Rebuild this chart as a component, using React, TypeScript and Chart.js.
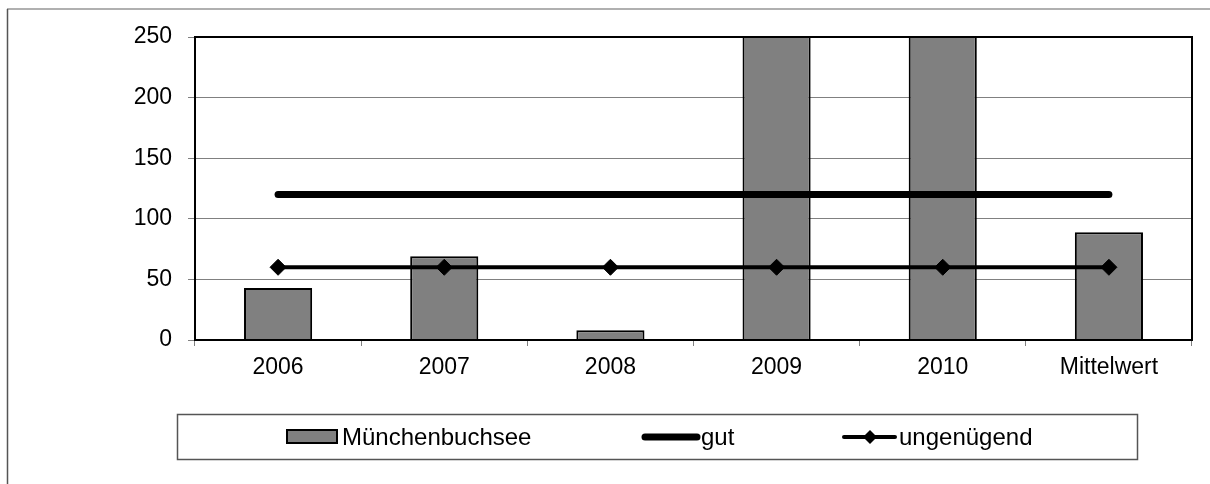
import React, { useEffect, useRef } from "react";
import { Chart, registerables } from "chart.js";

Chart.register(...registerables);

const categories = ["2006", "2007", "2008", "2009", "2010", "Mittelwert"];
const barValues = [43, 69, 8, 300, 300, 89];
const gutValues = [120, 120, 120, 120, 120, 120];
const ungenuegendValues = [60, 60, 60, 60, 60, 60];
const yTicks = [0, 50, 100, 150, 200, 250];

const FONT = "'Liberation Sans', Arial, sans-serif";

const framePlugin = {
  id: "framePlugin",
  beforeDraw(chart: any) {
    const ctx = chart.ctx;
    ctx.save();
    ctx.fillStyle = "#ffffff";
    ctx.fillRect(0, 0, chart.width, chart.height);
    ctx.restore();
  },
  afterDraw(chart: any) {
    const ctx = chart.ctx;
    const a = chart.chartArea;
    ctx.save();
    // outer frame
    ctx.strokeStyle = "#b0b0b0";
    ctx.lineWidth = 2;
    ctx.beginPath();
    ctx.moveTo(7, 9);
    ctx.lineTo(1210, 9);
    ctx.stroke();
    ctx.strokeStyle = "#555555";
    ctx.lineWidth = 1.5;
    ctx.beginPath();
    ctx.moveTo(7.5, 9);
    ctx.lineTo(7.5, 484);
    ctx.stroke();
    // plot frame
    ctx.strokeStyle = "#000000";
    ctx.lineWidth = 2;
    ctx.strokeRect(a.left, a.top, a.right - a.left, a.bottom - a.top);

    // legend box
    ctx.strokeStyle = "#555555";
    ctx.lineWidth = 1.5;
    ctx.strokeRect(177.5, 414.5, 960, 45);
    const cy = 437;
    ctx.font = `24px ${FONT}`;
    ctx.fillStyle = "#000000";
    ctx.textBaseline = "middle";
    ctx.textAlign = "left";
    // bar swatch
    ctx.fillStyle = "#808080";
    ctx.fillRect(287, 430, 50, 13);
    ctx.strokeStyle = "#000000";
    ctx.lineWidth = 2;
    ctx.strokeRect(287, 430, 50, 13);
    ctx.fillStyle = "#000000";
    ctx.fillText("Münchenbuchsee", 342, cy + 1);
    // gut swatch
    ctx.lineCap = "round";
    ctx.lineWidth = 7;
    ctx.beginPath();
    ctx.moveTo(645, cy);
    ctx.lineTo(697, cy);
    ctx.stroke();
    ctx.fillText("gut", 701, cy + 1);
    // ungenügend swatch
    ctx.lineWidth = 4;
    ctx.beginPath();
    ctx.moveTo(844, cy);
    ctx.lineTo(895, cy);
    ctx.stroke();
    ctx.beginPath();
    ctx.moveTo(870 - 7, cy);
    ctx.lineTo(870, cy - 7);
    ctx.lineTo(870 + 7, cy);
    ctx.lineTo(870, cy + 7);
    ctx.closePath();
    ctx.fill();
    ctx.fillText("ungenügend", 899, cy + 1);
    ctx.restore();
  },
};

export default function App() {
  const ref = useRef<HTMLCanvasElement>(null);
  useEffect(() => {
    if (!ref.current) return;
    const chart = new Chart(ref.current, {
      type: "bar",
      data: {
        labels: categories,
        datasets: [
          {
            type: "bar",
            label: "Münchenbuchsee",
            data: barValues,
            backgroundColor: "#808080",
            borderColor: "#000000",
            borderWidth: 2,
            categoryPercentage: 1,
            barPercentage: 0.41,
            order: 3,
          } as any,
          {
            type: "line",
            label: "gut",
            data: gutValues,
            borderColor: "#000000",
            borderWidth: 7,
            borderCapStyle: "round",
            pointRadius: 0,
            fill: false,
            order: 2,
          } as any,
          {
            type: "line",
            label: "ungenügend",
            data: ungenuegendValues,
            borderColor: "#000000",
            backgroundColor: "#000000",
            borderWidth: 4,
            pointStyle: "rectRot",
            pointRadius: 8,
            pointBorderWidth: 1,
            pointBackgroundColor: "#000000",
            pointBorderColor: "#000000",
            fill: false,
            order: 1,
          } as any,
        ],
      },
      options: {
        responsive: false,
        animation: false,
        layout: { padding: { left: 0, top: 37, right: 18, bottom: 0 } },
        plugins: {
          legend: { display: false },
          tooltip: { enabled: false },
        },
        scales: {
          x: {
            offset: true,
            grid: {
              offset: true,
              drawOnChartArea: false,
              color: "#808080",
              tickLength: 6,
            },
            border: { display: true, color: "#000000", width: 2 },
            ticks: {
              color: "#000000",
              font: { family: FONT, size: 23 },
              padding: 8,
              maxRotation: 0,
              autoSkip: false,
            },
            afterFit: (s: any) => {
              s.height = 144;
            },
          },
          y: {
            min: 0,
            max: 250,
            afterBuildTicks: (s: any) => {
              s.ticks = yTicks.map((v) => ({ value: v }));
            },
            grid: { color: "#808080", lineWidth: 1, tickLength: 7 },
            border: { display: true, color: "#000000", width: 2 },
            ticks: {
              color: "#000000",
              font: { family: FONT, size: 23 },
              padding: 16,
            },
            afterFit: (s: any) => {
              s.width = 195;
            },
          },
        },
      },
      plugins: [framePlugin],
    });
    return () => chart.destroy();
  }, []);
  return (
    <canvas
      ref={ref}
      width={1210}
      height={484}
      style={{ position: "fixed", left: 0, top: 0, width: 1210, height: 484 }}
    />
  );
}
